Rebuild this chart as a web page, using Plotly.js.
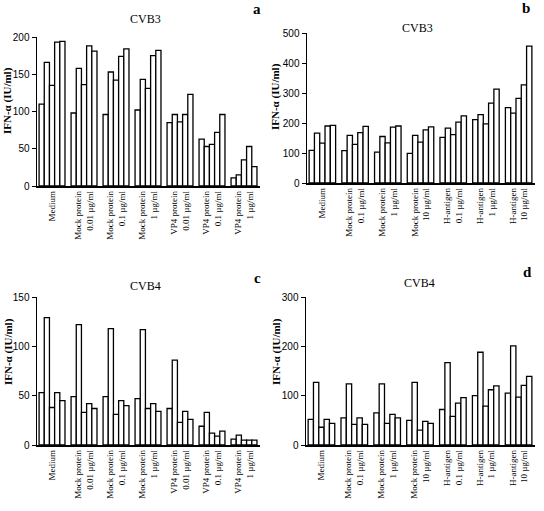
<!DOCTYPE html>
<html><head><meta charset="utf-8">
<script src="https://cdn.plot.ly/plotly-3.0.1.min.js"></script>
<style>html,body{margin:0;padding:0;background:#fff}#chart{width:544px;height:511px}</style>
</head><body><div id="chart"></div>
<script>
// Categories
const catsAC = ["Medium","Mock protein<br>0.01 µg/ml","Mock protein<br>0.1 µg/ml","Mock protein<br>1 µg/ml","VP4 protein<br>0.01 µg/ml","VP4 protein<br>0.1 µg/ml","VP4 protein<br>1 µg/ml"];
const catsBD = ["Medium","Mock protein<br>0.1 µg/ml","Mock protein<br>1 µg/ml","Mock protein<br>10 µg/ml","H-antigen<br>0.1 µg/ml","H-antigen<br>1 µg/ml","H-antigen<br>10 µg/ml"];

// Panel a (CVB3, VP4) – five subjects
const a1 = [110, 98, 96, 102, 85, 63, 11];
const a2 = [166, 158, 153, 143, 96, 53, 15];
const a3 = [135, 136, 142, 131, 86, 56, 35];
const a4 = [193, 188, 174, 175, 96, 72, 53];
const a5 = [194, 181, 184, 182, 123, 96, 26];
// Panel b (CVB3, H-antigen)
const b1 = [109, 108, 103, 99, 152, 211, 251];
const b2 = [166, 159, 155, 159, 183, 228, 233];
const b3 = [133, 129, 134, 136, 161, 197, 282];
const b4 = [190, 168, 186, 177, 203, 266, 327];
const b5 = [192, 189, 190, 187, 224, 313, 456];
// Panel c (CVB4, VP4)
const c1 = [53, 49, 49, 47, 37, 19, 6];
const c2 = [129, 122, 118, 117, 86, 33, 10];
const c3 = [38, 33, 31, 37, 23, 12, 5];
const c4 = [53, 42, 45, 42, 34, 9, 5];
const c5 = [45, 37, 40, 34, 26, 14, 5];
// Panel d (CVB4, H-antigen)
const d1 = [52, 55, 65, 50, 72, 100, 105];
const d2 = [127, 124, 124, 127, 167, 188, 201];
const d3 = [36, 42, 44, 30, 58, 79, 97];
const d4 = [52, 55, 62, 48, 85, 112, 121];
const d5 = [44, 42, 55, 44, 96, 120, 139];

const W = 544, H = 511;
const px = x => x / W;
const py = y => 1 - y / H;

const traces = [];
function addPanel(cats, series, xa, ya) {
  series.forEach(s => traces.push({
    type: 'bar', x: cats, y: s, xaxis: xa, yaxis: ya,
    marker: {color: '#ffffff', line: {color: '#000000', width: 1.3}},
    showlegend: false, hoverinfo: 'y'
  }));
}
addPanel(catsAC, [a1, a2, a3, a4, a5], 'x', 'y');
addPanel(catsBD, [b1, b2, b3, b4, b5], 'x2', 'y2');
addPanel(catsAC, [c1, c2, c3, c4, c5], 'x3', 'y3');
addPanel(catsBD, [d1, d2, d3, d4, d5], 'x4', 'y4');

const tickSans = {family: 'Liberation Sans, Arial, sans-serif', size: 10, color: '#000'};
const tickSerif = {family: 'Liberation Serif, Times New Roman, serif', size: 9, color: '#000'};

function xax(dom, anchor) {
  return {domain: dom, anchor: anchor, type: 'category', range: [-0.47, 6.5],
    showline: true, linecolor: '#000', linewidth: 1.5, ticks: '', showgrid: false,
    zeroline: false, tickangle: -90, tickfont: tickSerif, automargin: false};
}
function yax(dom, anchor, max, dt) {
  return {domain: dom, anchor: anchor, range: [0, max], dtick: dt, tick0: 0,
    showline: true, linecolor: '#000', linewidth: 1.5, ticks: 'outside', ticklen: 4,
    tickwidth: 1, tickcolor: '#000', showgrid: false, zeroline: false,
    tickfont: tickSans, automargin: false};
}

const layout = {
  width: W, height: H, margin: {l: 0, r: 0, t: 0, b: 0},
  paper_bgcolor: '#fff', plot_bgcolor: '#fff',
  barmode: 'group', bargap: 0.19, bargroupgap: 0,
  showlegend: false,
  xaxis: xax([px(37), px(260)], 'y'),
  yaxis: yax([py(186), py(37)], 'x', 200, 50),
  xaxis2: xax([px(307), px(535)], 'y2'),
  yaxis2: yax([py(183), py(33)], 'x2', 500, 100),
  xaxis3: xax([px(37), px(260)], 'y3'),
  yaxis3: yax([py(445), py(297)], 'x3', 150, 50),
  xaxis4: xax([px(306), px(535)], 'y4'),
  yaxis4: yax([py(445), py(297)], 'x4', 300, 100),
  annotations: []
};

const serif = 'Liberation Serif, Times New Roman, serif';
function ann(text, x, y, opts) {
  layout.annotations.push(Object.assign({text: text, xref: 'paper', yref: 'paper',
    x: px(x), y: py(y), xanchor: 'center', yanchor: 'middle', showarrow: false,
    font: {family: serif, size: 12, color: '#000'}}, opts || {}));
}
// Panel titles
ann('CVB3', 145, 19);
ann('CVB3', 417, 28);
ann('CVB4', 145, 286);
ann('CVB4', 419, 283);
// Panel letters
const letterFont = {family: serif, size: 15, color: '#000'};
ann('<b>a</b>', 257, 9, {font: letterFont});
ann('<b>b</b>', 526, 8, {font: letterFont});
ann('<b>c</b>', 257, 278, {font: letterFont});
ann('<b>d</b>', 527, 272, {font: letterFont});
// Y-axis titles
const ytFont = {family: serif, size: 11, color: '#000'};
ann('<b>IFN-α (IU/ml)</b>', 8, 101, {textangle: -90, font: ytFont});
ann('<b>IFN-α (IU/ml)</b>', 276, 97, {textangle: -90, font: ytFont});
ann('<b>IFN-α (IU/ml)</b>', 8, 352, {textangle: -90, font: ytFont});
ann('<b>IFN-α (IU/ml)</b>', 276, 352, {textangle: -90, font: ytFont});

Plotly.newPlot('chart', traces, layout, {staticPlot: true, displayModeBar: false});
</script></body></html>
